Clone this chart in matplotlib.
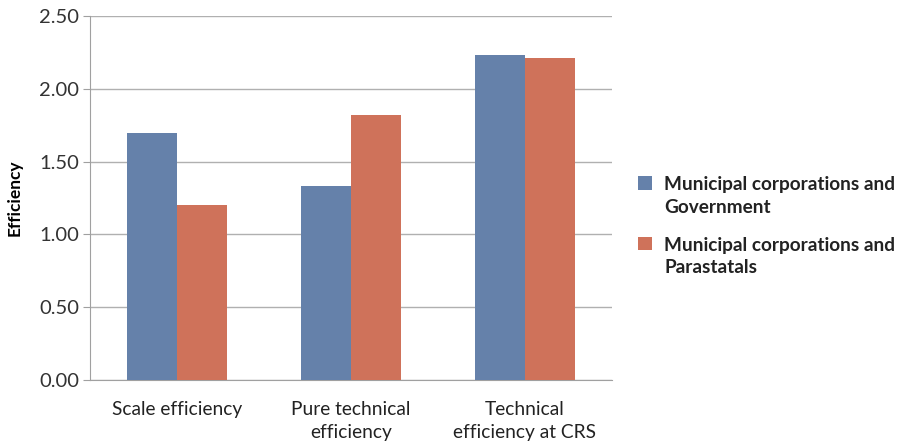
import matplotlib.pyplot as plt
import numpy as np

plt.rcParams['font.family'] = ['Lato', 'DejaVu Sans']

# data
categories = ['Scale efficiency', 'Pure technical\nefficiency', 'Technical\nefficiency at CRS']
series_names = ['Municipal corporations and\nGovernment', 'Municipal corporations and\nParastatals']
gov_values = [1.70, 1.33, 2.23]
para_values = [1.20, 1.82, 2.21]
yticks = [0.0, 0.5, 1.0, 1.5, 2.0, 2.5]

colors = ['#6581AA', '#CF725A']

fig = plt.figure(figsize=(9.03, 4.46), dpi=100)
ax = fig.add_axes([0.0997, 0.148, 0.578, 0.816])

x = np.arange(len(categories))
w = 0.285
ax.bar(x - w / 2, gov_values, w, color=colors[0], label=series_names[0], zorder=3)
ax.bar(x + w / 2, para_values, w, color=colors[1], label=series_names[1], zorder=3)

ax.set_xlim(-0.5, 2.5)
ax.set_ylim(0, 2.5)
ax.set_yticks(yticks)
ax.set_yticklabels(['%.2f' % v for v in yticks], fontsize=14.5, color='#333333')
ax.set_xticks(x)
ax.set_xticklabels(categories, fontsize=13.8, color='#222222', linespacing=1.45)
ax.tick_params(axis='x', length=0, pad=15)
ax.tick_params(axis='y', length=5, color='#A0A0A0', pad=3)
ax.grid(axis='y', color='#B0B0B0', linewidth=1, zorder=0)

for s in ['top', 'right']:
    ax.spines[s].set_visible(False)
for s in ['left', 'bottom']:
    ax.spines[s].set_color('#A0A0A0')

ax.set_ylabel('Efficiency', fontsize=12.5, fontweight='bold', labelpad=12)

leg = fig.legend(loc='center left', bbox_to_anchor=(0.688, 0.493), frameon=False,
                 prop={'size': 13.7, 'weight': 'bold'}, handlelength=0.72, handleheight=0.72,
                 handletextpad=0.65, labelspacing=1.1)
for t in leg.get_texts():
    t.set_color('#222222')
    t.set_linespacing(1.42)
# put each square next to the first line of its label
for h in leg.legend_handles:
    h.set_y(h.get_y() + 9.5)

fig.savefig('out.png', dpi=100)
